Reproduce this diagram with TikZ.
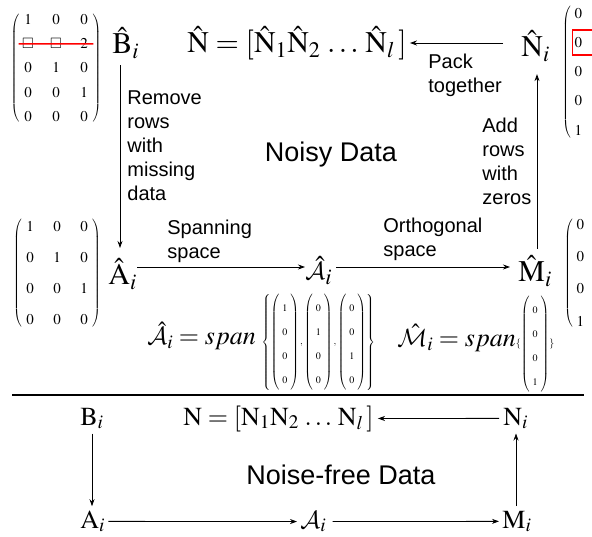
\documentclass[tikz,border=0pt]{standalone}
\usepackage{amsmath,amssymb}
\usepackage{mathptmx}
\DeclareMathAlphabet{\mathcal}{OMS}{cmsy}{m}{n}
\usepackage[no-math]{fontspec}
\setmainfont{Liberation Serif}
\newfontfamily\labfont{Liberation Sans}
\usetikzlibrary{arrows.meta,calc,matrix}

% column vectors and the set round them, in a small size
\newcommand{\vcol}[4]{\left(\begin{array}{@{\hspace{3pt}}c@{\hspace{3pt}}}#1\\#2\\#3\\#4\end{array}\right)}
\newcommand{\spanset}[1]{\mbox{\fontsize{10}{24}\selectfont$\left\{#1\right\}$}}
\newcommand{\spansmall}[1]{\mbox{\fontsize{10}{24}\selectfont$\{#1\}$}}

\begin{document}
\begin{tikzpicture}[x=1pt,y=-1pt,>={Stealth[length=7pt,width=5pt]},line width=0.8pt]
\tikzstyle{big}=[inner sep=0,anchor=base west,font=\fontsize{30}{30}\selectfont]
\tikzstyle{mid}=[inner sep=0,anchor=base west,font=\fontsize{26}{26}\selectfont]
\tikzstyle{spn}=[inner sep=0,anchor=base west,font=\fontsize{26}{26}\selectfont]
\tikzstyle{lab}=[inner sep=0,anchor=north west,align=left,font=\labfont\fontsize{20}{24}\selectfont]
\tikzstyle{title}=[font=\labfont\fontsize{27}{27}\selectfont]
\tikzstyle{mat}=[matrix of math nodes,inner sep=0,cells={nodes={inner sep=0,font=\fontsize{15}{15}\selectfont}}]
\useasboundingbox (0,0) rectangle (592,537);
% noisy data
\matrix (mB) [mat,left delimiter=(,right delimiter=),column sep=14pt,row sep=11pt,cells={nodes={minimum width=14pt,minimum height=13pt}}] at (56,68) {1&0&0\\ \square&\square&2\\0&1&0\\0&0&1\\0&0&0\\};
\draw[red,line width=1.5pt,shorten <=-2pt,shorten >=-2pt] (mB-2-1.west) -- (mB-2-3.east);
\node[big] (Bh) at (112,54) {$\hat{\mathrm{B}}_i$};
\node[lab] (rm) at (127,90) {Remove\\rows\\with\\missing\\data};
\node[big] (Neq) at (187,53) {$\hat{\mathrm{N}}=[\hat{\mathrm{N}}_1\hat{\mathrm{N}}_2\,\ldots\,\hat{\mathrm{N}}_l\,]$};
\node[big] (Nh) at (521,57) {$\hat{\mathrm{N}}_i$};
\node[lab] (pk) at (428,54) {Pack\\together};
\matrix (mN) [mat,anchor=west,left delimiter=(,row sep=13pt,cells={nodes={minimum width=12pt,minimum height=16pt}}] at (572,72) {0\\0\\0\\0\\1\\};
\draw[red,line width=1.2pt] ($(mN-2-1.center)+(-6,-13)$) rectangle ++(21,25);
\node[lab] (ad) at (482,118) {Add\\rows\\with\\zeros};
\node[title] (nd) at (331,155) {Noisy Data};
\matrix (mA) [mat,left delimiter=(,right delimiter=),column sep=14pt,row sep=15pt,cells={nodes={minimum width=13pt,minimum height=16pt}}] at (57,273) {1&0&0\\0&1&0\\0&0&1\\0&0&0\\};
\node[big] (Ah) at (108,285) {$\hat{\mathrm{A}}_i$};
\node[lab] (sp) at (167,220) {Spanning\\space};
\node[big] (Ac) at (305,280) {$\hat{\mathcal{A}}_i$};
\node[lab] (og) at (383,218) {Orthogonal\\space};
\node[big] (Mh) at (518,282) {$\hat{\mathrm{M}}_i$};
\matrix (mM) [mat,anchor=west,left delimiter=(,row sep=16pt,cells={nodes={minimum width=12pt,minimum height=16pt}}] at (574,273) {0\\0\\0\\1\\};
\node[spn] (sa) at (147,345) {$\hat{\mathcal{A}}_i=span\;\spanset{\vcol{1}{0}{0}{0}{,}\vcol{0}{1}{0}{0}{,}\vcol{0}{0}{1}{0}}$};
\node[spn] (sm) at (397,347) {$\hat{\mathcal{M}}_i=span\spansmall{\vcol{0}{0}{0}{1}}$};
\draw[->,shorten <=6pt,shorten >=10pt] ([xshift=8pt]Bh.south west) -- ([xshift=8pt]Bh.south west |- Ah.north);
\draw[->] ([yshift=18pt]Ah.base east) -- ([yshift=13pt]Ac.base west);
\draw[->,shorten <=4pt,shorten >=8pt] ([yshift=13pt]Ac.base east) -- ([yshift=15pt]Mh.base west);
\draw[->,shorten <=6pt,shorten >=12pt] ([xshift=19pt]Mh.north west) -- ([xshift=19pt]Mh.north west |- Nh.south);
\draw[->,shorten <=18pt,shorten >=3pt] ([yshift=14pt]Nh.base west) -- ([yshift=10pt]Neq.base east);
% noise-free data
\draw[line width=1.2pt] (12,395) -- (584,395);
\node[mid] (B) at (80,425) {$\mathrm{B}_i$};
\node[mid] (N) at (183,425) {$\mathrm{N}=[\mathrm{N}_1\mathrm{N}_2\,\ldots\,\mathrm{N}_l\,]$};
\node[mid] (Ni) at (503,425) {$\mathrm{N}_i$};
\node[title] (nf) at (341,475) {Noise-free Data};
\node[mid] (A) at (80,528) {$\mathrm{A}_i$};
\node[mid] (Acal) at (300,528) {$\mathcal{A}_i$};
\node[mid] (M) at (502,528) {$\mathrm{M}_i$};
\draw[->,shorten <=4pt,shorten >=4pt] (Ni.west) -- (N.east);
\draw[->,shorten <=4pt,shorten >=4pt] ([xshift=12pt]B.south west) -- ([xshift=12pt]B.south west |- A.north);
\draw[->,shorten <=3pt,shorten >=3pt] (A.east) -- (Acal.west);
\draw[->,shorten <=6pt,shorten >=3pt] (Acal.east) -- (M.west);
\draw[->,shorten <=4pt,shorten >=4pt] ([xshift=14pt]M.north west) -- ([xshift=14pt]M.north west |- Ni.south);
\end{tikzpicture}
\end{document}
